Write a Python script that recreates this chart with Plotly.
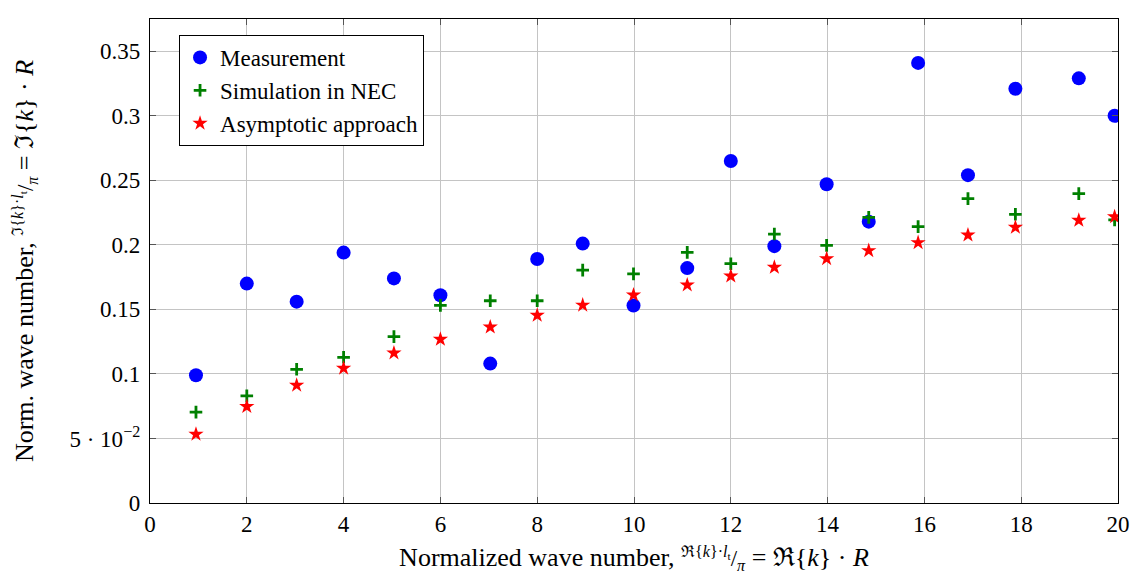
import plotly.graph_objects as go

x_vals = [0.95, 2.0, 3.03, 4.0, 5.04, 6.0, 7.03, 8.0, 8.94, 9.99,
          11.1, 12.0, 12.9, 13.98, 14.85, 15.87, 16.9, 17.88, 19.19, 19.93]
measurement = [0.099, 0.170, 0.156, 0.194, 0.174, 0.161, 0.108, 0.189, 0.201, 0.153,
               0.182, 0.265, 0.199, 0.247, 0.218, 0.341, 0.254, 0.321, 0.329, 0.300]
simulation = [0.0704, 0.083, 0.1036, 0.1129, 0.1289, 0.1531, 0.1567, 0.1567, 0.1804, 0.1775,
              0.1942, 0.1854, 0.2084, 0.1996, 0.2213, 0.2141, 0.2358, 0.2237, 0.2397, 0.2193]
asymptotic = [0.0533, 0.0747, 0.0912, 0.1044, 0.1162, 0.1268, 0.1363, 0.1454, 0.1533, 0.1612,
              0.1689, 0.1758, 0.1826, 0.1893, 0.1955, 0.2017, 0.2076, 0.2136, 0.219, 0.2218]

x_ticks = [0, 2, 4, 6, 8, 10, 12, 14, 16, 18, 20]
y_ticks = [0, 0.05, 0.1, 0.15, 0.2, 0.25, 0.3, 0.35]
y_ticktext = ["0", "5 · 10<sup>−2</sup>", "0.1", "0.15", "0.2", "0.25", "0.3", "0.35"]

FONT = "Liberation Serif, DejaVu Serif, serif"

fig = go.Figure()
fig.add_trace(go.Scatter(x=x_vals, y=measurement, mode="markers", name="Measurement",
                         marker=dict(symbol="circle", size=14, color="#0000ff")))
fig.add_trace(go.Scatter(x=x_vals, y=simulation, mode="markers", name="Simulation in NEC",
                         marker=dict(symbol="cross-thin", size=9, color="#008000",
                                     line=dict(color="#008000", width=2.8))))
fig.add_trace(go.Scatter(x=x_vals, y=asymptotic, mode="markers", name="Asymptotic approach",
                         marker=dict(symbol="star", size=11.5, color="#ff0000",
                                     line=dict(width=0))))

axis_common = dict(showgrid=True, gridcolor="#c4c4c4", gridwidth=1,
                   showline=True, linecolor="black", linewidth=1.3, mirror="ticks",
                   ticks="inside", ticklen=6, tickcolor="#555555", tickwidth=1,
                   zeroline=False, automargin=False,
                   tickfont=dict(family=FONT, size=23, color="black"))

frac_x = "<span style='font-size:23px'><sup>ℜ{<i>k</i>}·<i>l</i><sub>t</sub></sup>/<sub><i>π</i></sub></span>"
frac_y = "<span style='font-size:23px'><sup>ℑ{<i>k</i>}·<i>l</i><sub>t</sub></sup>/<sub><i>π</i></sub></span>"

fig.update_xaxes(range=[0, 20], tickvals=x_ticks,
                 title=dict(text="Normalized wave number, " + frac_x + " = ℜ{<i>k</i>} · <i>R</i>",
                            font=dict(family=FONT, size=26, color="black"), standoff=20),
                 **axis_common)
fig.update_yaxes(range=[0, 0.375], tickvals=y_ticks, ticktext=y_ticktext,
                 ticklabelstandoff=4,
                 title=dict(text="Norm. wave number, " + frac_y + " = ℑ{<i>k</i>} · <i>R</i>",
                            font=dict(family=FONT, size=26, color="black"), standoff=28),
                 **axis_common)

fig.update_layout(
    width=1135, height=574,
    margin=dict(l=150, r=17, t=19, b=71),
    plot_bgcolor="white", paper_bgcolor="white",
    font=dict(family=FONT, color="black"),
    legend=dict(x=0.03, y=0.967, xanchor="left", yanchor="top",
                bgcolor="white", bordercolor="black", borderwidth=1,
                font=dict(family=FONT, size=23, color="black"),
                itemwidth=30, tracegroupgap=0),
    showlegend=True,
)

# remove the default page margin so the figure sits at the top-left corner
fig.write_html("out.html", config={"displayModeBar": False},
               post_script="document.body.style.margin='0';document.body.style.overflow='hidden';")
